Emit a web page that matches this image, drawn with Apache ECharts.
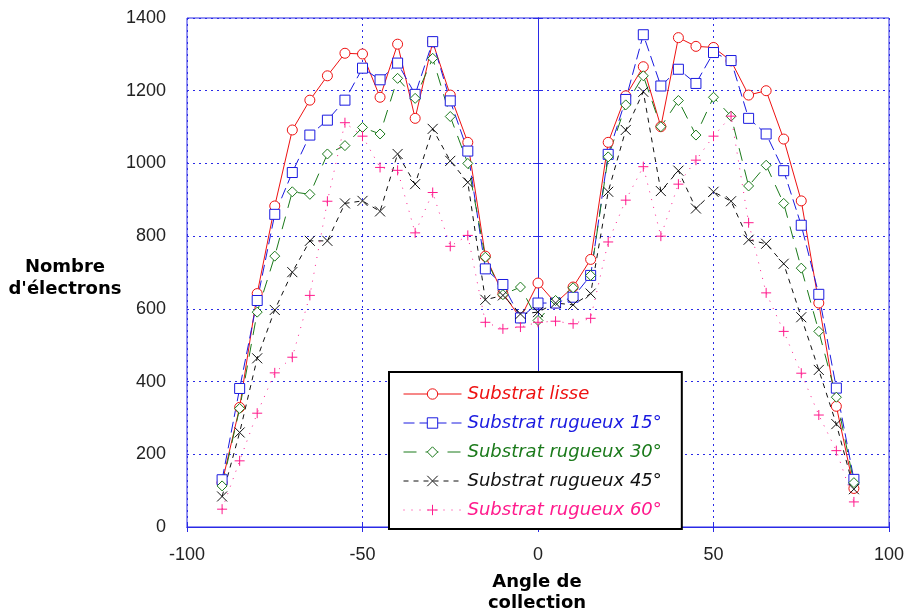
<!DOCTYPE html>
<html>
<head>
<meta charset="utf-8">
<script src="https://cdn.jsdelivr.net/npm/echarts@6/dist/echarts.min.js"></script>
<style>
  html, body { margin: 0; padding: 0; background: #fff; }
  #c1 { width: 909px; height: 613px; }
</style>
</head>
<body>
<div id="c1"></div>
<script>
// angles de collection (degres)
const angles = [-90, -85, -80, -75, -70, -65, -60, -55, -50, -45, -40, -35, -30, -25, -20, -15, -10, -5,
  0, 5, 10, 15, 20, 25, 30, 35, 40, 45, 50, 55, 60, 65, 70, 75, 80, 85, 90]

const lisse = [122, 329, 642, 883, 1092, 1174, 1241, 1303, 1301, 1182, 1328, 1124, 1334, 1188, 1058, 745, 642, 575,
  671, 616, 660, 736, 1058, 1186, 1266, 1101, 1346, 1322, 1319, 1282, 1188, 1200, 1067, 897, 616, 332, 106]
const rugueux15 = [130, 381, 623, 860, 975, 1078, 1119, 1174, 1262, 1230, 1276, 1190, 1335, 1172, 1034, 710, 667, 575,
  616, 616, 632, 692, 1025, 1176, 1354, 1213, 1259, 1220, 1305, 1283, 1124, 1081, 980, 830, 640, 382, 131]
const rugueux30 = [113, 326, 591, 745, 922, 915, 1026, 1049, 1099, 1081, 1234, 1179, 1289, 1129, 1000, 742, 639, 660,
  568, 623, 658, 692, 1018, 1161, 1241, 1101, 1173, 1078, 1182, 1130, 938, 995, 890, 712, 538, 357, 122]
const rugueux45 = [84, 260, 464, 597, 701, 787, 787, 890, 897, 868, 1026, 943, 1095, 1007, 948, 625, 637, 586,
  591, 616, 611, 642, 922, 1092, 1197, 924, 980, 876, 922, 896, 790, 779, 724, 577, 432, 283, 104]
const rugueux60 = [49, 182, 313, 424, 467, 637, 896, 1112, 1075, 989, 981, 809, 920, 772, 802, 563, 545, 550,
  563, 566, 559, 574, 784, 899, 991, 800, 943, 1009, 1075, 1130, 837, 644, 538, 423, 308, 210, 69]

const seriesNames = ['Substrat lisse', 'Substrat rugueux 15°', 'Substrat rugueux 30°', 'Substrat rugueux 45°', 'Substrat rugueux 60°']
const seriesColors = ['#ee1111', '#1a1ae0', '#1b7a1b', '#111111', '#ff1a8c']

const gridBlue = '#2a2ae6'

const toPairs = vals => vals.map((v, i) => [angles[i], v])

// symboles creux, dessines au trait
const circleSym = 'path://M10,5A5,5 0 1 1 0,5A5,5 0 1 1 10,5Z'
const squareSym = 'path://M0,0H10V10H0Z'
const diamondSym = 'path://M5,0L10,5L5,10L0,5Z'
const xSym = 'path://M0,0L10,10M10,0L0,10'
const plusSym = 'path://M5,0L5,10M0,5L10,5'

const myChart = echarts.init(document.getElementById('c1'), null, { renderer: 'canvas' })

const mkSeries = (idx, data, symbol, size, dash) => ({
  name: seriesNames[idx],
  type: 'line',
  data: toPairs(data),
  symbol: symbol,
  symbolSize: size,
  showAllSymbol: true,
  animation: false,
  lineStyle: { color: seriesColors[idx], width: 1, type: dash },
  itemStyle: { color: '#fff', borderColor: seriesColors[idx], borderWidth: 1 }
})

const option = {
  backgroundColor: '#fff',
  animation: false,
  grid: {
    left: 187,
    right: 20,
    top: 18,
    bottom: 86,
    show: true,
    borderColor: gridBlue,
    borderWidth: 1
  },
  legend: {
    orient: 'vertical',
    left: 389,
    top: 372,
    padding: [13, 20, 10, 14],
    itemWidth: 58,
    itemHeight: 13,
    itemGap: 11,
    backgroundColor: '#fff',
    borderColor: '#000',
    borderWidth: 2,
    borderRadius: 0,
    selectedMode: false,
    itemStyle: { borderWidth: 1 },
    lineStyle: { width: 1 },
    textStyle: { fontFamily: 'DejaVu Sans', fontStyle: 'italic', fontSize: 18, padding: [0, 0, 0, 1] },
    data: seriesNames.map((n, i) => ({ name: n, textStyle: { color: seriesColors[i] } }))
  },
  xAxis: [
    {
      type: 'value',
      min: -100,
      max: 100,
      interval: 50,
      axisLine: { show: true, lineStyle: { color: gridBlue, width: 1 } },
      axisTick: { show: true, inside: true, length: 5, lineStyle: { color: gridBlue } },
      axisLabel: { color: '#222', fontFamily: 'Liberation Sans', fontSize: 18, margin: 19 },
      splitLine: { show: true, lineStyle: { color: gridBlue, type: [2, 4], width: 1 } }
    },
    {
      type: 'value',
      position: 'top',
      min: -100,
      max: 100,
      interval: 50,
      axisLine: { show: true, lineStyle: { color: gridBlue } },
      axisTick: { show: true, inside: true, length: 5, lineStyle: { color: gridBlue } },
      axisLabel: { show: false },
      splitLine: { show: false }
    }
  ],
  yAxis: [
    {
      type: 'value',
      min: 0,
      max: 1400,
      interval: 200,
      axisLine: { show: true, lineStyle: { color: gridBlue, width: 1 } },
      axisTick: { show: true, inside: true, length: 5, lineStyle: { color: gridBlue } },
      axisLabel: { color: '#222', fontFamily: 'Liberation Sans', fontSize: 18, margin: 21, formatter: v => String(v) },
      splitLine: { show: true, lineStyle: { color: gridBlue, type: [2, 4], width: 1 } }
    },
    {
      type: 'value',
      position: 'right',
      min: 0,
      max: 1400,
      interval: 200,
      axisLine: { show: true, lineStyle: { color: gridBlue } },
      axisTick: { show: true, inside: true, length: 5, lineStyle: { color: gridBlue } },
      axisLabel: { show: false },
      splitLine: { show: false }
    }
  ],
  graphic: [
    {
      type: 'text',
      x: 65,
      y: 278,
      style: {
        text: "Nombre\nd'électrons",
        font: 'bold 18px "DejaVu Sans"',
        lineHeight: 22,
        fill: '#000',
        textAlign: 'center',
        textVerticalAlign: 'middle'
      }
    },
    {
      type: 'text',
      x: 537,
      y: 593,
      style: {
        text: 'Angle de\ncollection',
        font: 'bold 18px "DejaVu Sans"',
        lineHeight: 21,
        fill: '#000',
        textAlign: 'center',
        textVerticalAlign: 'middle'
      }
    }
  ],
  series: [
    mkSeries(0, lisse, circleSym, 10, 'solid'),
    mkSeries(1, rugueux15, squareSym, 10, [11, 5]),
    mkSeries(2, rugueux30, diamondSym, 10, [13, 9]),
    mkSeries(3, rugueux45, xSym, 10, [5, 5]),
    mkSeries(4, rugueux60, plusSym, 10, [1, 7])
  ]
}
myChart.setOption(option)
</script>
</body>
</html>
